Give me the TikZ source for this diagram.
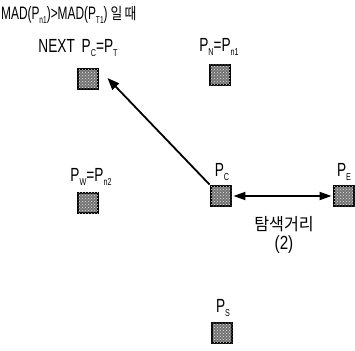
\documentclass[tikz,border=0pt]{standalone}
\usepackage{fontspec}
\setmainfont{Liberation Sans}
\newfontfamily\cjk{Noto Sans CJK KR}
\usetikzlibrary{patterns,arrows.meta}
% narrow lettering and subscripted point names
\newcommand{\nar}[1]{\scalebox{0.66}[1]{#1}}
\newcommand{\wid}[1]{\scalebox{0.72}[1]{#1}}
\newcommand{\Pt}[1]{P\raisebox{-3.5pt}{\fontsize{10}{10}\selectfont #1}}
\begin{document}
\begin{tikzpicture}[x=1pt,y=-1pt,
  cell/.style={draw=black,line width=2.4pt,fill=black!55,minimum size=20.5pt,inner sep=0pt,
    postaction={pattern=crosshatch dots,pattern color=white!80!gray}},
  lbl/.style={font=\fontsize{19}{19}\selectfont,inner sep=0pt},
  link/.style={line width=1.8pt,-{Triangle[length=12pt,width=9pt]}},
  both/.style={line width=1.8pt,{Triangle[length=12pt,width=8pt]}-{Triangle[length=12pt,width=8pt]}}]
\useasboundingbox (0,0) rectangle (355,350);

% search cells
\node[cell] (nx) at (88,79) {};
\node[cell] (pn) at (220,75) {};
\node[cell] (pw) at (88,203) {};
\node[cell] (pc) at (221,196) {};
\node[cell] (pe) at (344,196) {};
\node[cell] (ps) at (222,333) {};

% labels
\node[lbl,font=\fontsize{18}{18}\selectfont,anchor=west] (title) at (1,15) {\nar{MAD(\Pt{n1})>MAD(\Pt{T1})}\,{\cjk\fontsize{16}{16}\selectfont\scalebox{0.8}[1]{일\,때}}};
\node[lbl] (lnx) at (78,48) {\wid{NEXT\enspace\Pt{C}=\Pt{T}}};
\node[lbl] (lpn) at (219,47) {\wid{\Pt{N}=\Pt{n1}}};
\node[lbl] (lpw) at (91,177) {\wid{\Pt{W}=\Pt{n2}}};
\node[lbl] (lpc) at (222,172) {\wid{\Pt{C}}};
\node[lbl] (lpe) at (344,172) {\wid{\Pt{E}}};
\node[lbl] (lps) at (223,308) {\wid{\Pt{S}}};
\node[lbl,align=center] (dist) at (284,235) {{\cjk\fontsize{17}{17}\selectfont\scalebox{0.95}[1]{탐색거리}}\\[0pt]\scalebox{0.8}[1]{(2)}};

% moves
\draw[link] (pc.north west) -- ([xshift=8pt,yshift=1pt]nx.east);
\draw[both,shorten <=1pt,shorten >=1pt] (pc.east) -- (pe.west);
\end{tikzpicture}
\end{document}
